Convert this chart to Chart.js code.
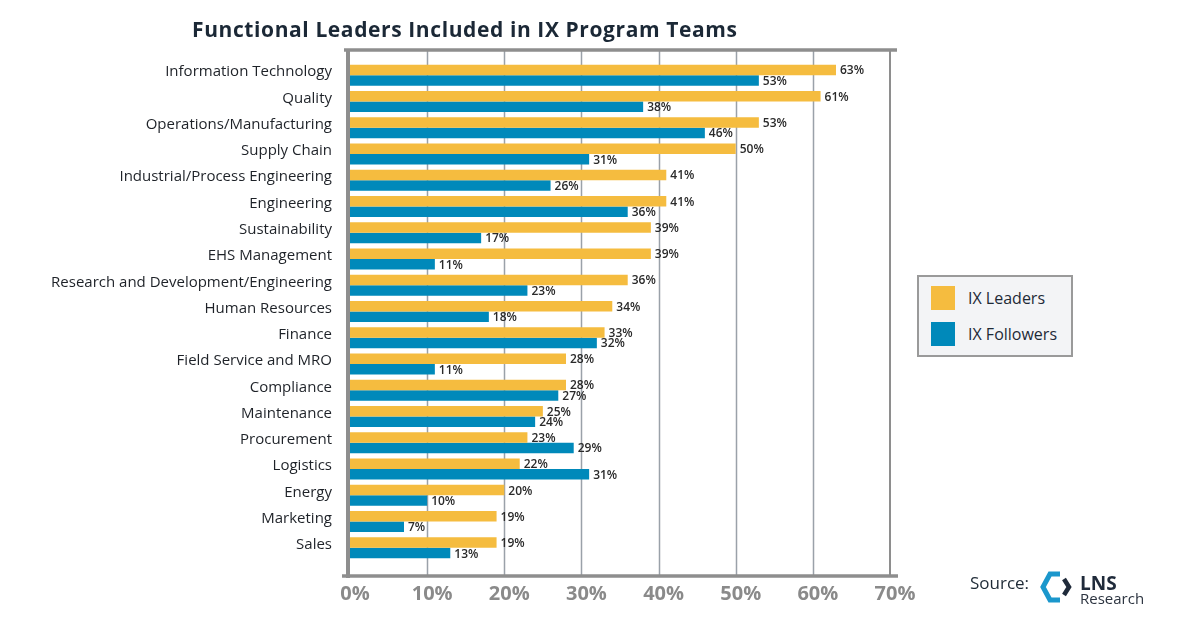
<!DOCTYPE html>
<html>
<head>
<meta charset="utf-8">
<script src="https://cdn.jsdelivr.net/npm/chart.js@4"></script>
<style>
  html, body { margin: 0; padding: 0; background: #fff; }
  #wrap { position: relative; width: 1200px; height: 630px; font-family: 'Open Sans', sans-serif; }
  #chart { position: absolute; left: 0; top: 0; }
  .title { position: absolute; left: 192px; top: 15px; font: bold 21px 'Open Sans', sans-serif; color: #1b2836; letter-spacing: 0.6px; }
  .legend { position: absolute; left: 917px; top: 275px; width: 152px; height: 78px; background: #f3f4f6; border: 2px solid #9a9a9a; }
  .legend .item { position: absolute; left: 12px; display: flex; align-items: center; font-size: 16px; color: #1e2a36; }
  .legend .sw { width: 24px; height: 24px; margin-right: 13px; }
  .source { position: absolute; left: 970px; top: 571px; font-size: 17px; color: #1e2a36; }
  .logo { position: absolute; left: 1036px; top: 566px; }
</style>
</head>
<body>
<div id="wrap">
  <canvas id="chart" width="1200" height="630"></canvas>
  <div class="title">Functional Leaders Included in IX Program Teams</div>
  <div class="legend" id="legend"></div>
  <div class="source">Source:</div>
  <svg class="logo" width="120" height="44" viewBox="0 0 120 44">
    <polyline points="24,8 14,8 7,21 14,34 24,34" fill="none" stroke="#1b97cc" stroke-width="5" stroke-linejoin="miter"/>
    <polyline points="28,13 33,21 28,29" fill="none" stroke="#1f2a3a" stroke-width="4.5"/>
    <text x="44" y="24" font-family="Open Sans" font-weight="bold" font-size="19" fill="#1f2a3a">LNS</text>
    <text x="44" y="38" font-family="Open Sans" font-size="15" fill="#2c3440">Research</text>
  </svg>
</div>
<script>
const categories = [
  'Information Technology', 'Quality', 'Operations/Manufacturing', 'Supply Chain',
  'Industrial/Process Engineering', 'Engineering', 'Sustainability', 'EHS Management',
  'Research and Development/Engineering', 'Human Resources', 'Finance', 'Field Service and MRO',
  'Compliance', 'Maintenance', 'Procurement', 'Logistics', 'Energy', 'Marketing', 'Sales'
];
const leaders   = [63, 61, 53, 50, 41, 41, 39, 39, 36, 34, 33, 28, 28, 25, 23, 22, 20, 19, 19];
const followers = [53, 38, 46, 31, 26, 36, 17, 11, 23, 18, 32, 11, 27, 24, 29, 31, 10, 7, 13];
const seriesNames = ['IX Leaders', 'IX Followers'];
const xTicks = [0, 10, 20, 30, 40, 50, 60, 70];

const YELLOW = '#f5bc3f', BLUE = '#0089ba';
const FRAME = '#8e8e8e', GRID = '#9aa1a9';

// legend (html)
document.getElementById('legend').innerHTML = seriesNames.map((n, i) =>
  `<div class="item" style="top:${9 + i * 36}px"><div class="sw" style="background:${i ? BLUE : YELLOW}"></div>${n}</div>`
).join('');

// frame + gridlines, extended a bit past the chart area like the original
const framePlugin = {
  id: 'frame',
  beforeDatasetsDraw(chart) {
    const { ctx, chartArea: a, scales: { x } } = chart;
    const top = a.top - 12, bot = a.bottom + 15;
    ctx.save();
    ctx.strokeStyle = GRID; ctx.lineWidth = 1.5;
    xTicks.slice(1, -1).forEach(v => {
      const px = Math.round(x.getPixelForValue(v)) + 0.5;
      ctx.beginPath(); ctx.moveTo(px, top); ctx.lineTo(px, bot); ctx.stroke();
    });
    ctx.strokeStyle = FRAME;
    const r = x.getPixelForValue(70);
    ctx.lineWidth = 2;
    ctx.beginPath(); ctx.moveTo(r, top); ctx.lineTo(r, bot); ctx.stroke();
    ctx.lineWidth = 3.5;
    ctx.beginPath(); ctx.moveTo(a.left - 6, top); ctx.lineTo(r + 7, top); ctx.stroke();
    ctx.beginPath(); ctx.moveTo(a.left - 8, bot); ctx.lineTo(r + 8, bot); ctx.stroke();
    ctx.lineWidth = 4;
    ctx.beginPath(); ctx.moveTo(a.left - 2, top); ctx.lineTo(a.left - 2, bot + 2); ctx.stroke();
    ctx.restore();
  }
};

const valueLabels = {
  id: 'valueLabels',
  afterDatasetsDraw(chart) {
    const { ctx } = chart;
    ctx.save();
    ctx.font = '600 12px "Open Sans"';
    ctx.fillStyle = '#2a2a2a';
    ctx.textBaseline = 'middle';
    chart.data.datasets.forEach((ds, di) => {
      chart.getDatasetMeta(di).data.forEach((bar, i) => {
        ctx.fillText(ds.data[i] + '%', bar.x + 4, bar.y + 1);
      });
    });
    ctx.restore();
  }
};

new Chart(document.getElementById('chart'), {
  type: 'bar',
  data: {
    labels: categories,
    datasets: [
      { label: seriesNames[0], data: leaders, backgroundColor: YELLOW },
      { label: seriesNames[1], data: followers, backgroundColor: BLUE }
    ]
  },
  options: {
    indexAxis: 'y',
    responsive: false,
    animation: false,
    layout: { padding: { top: 62, right: 310, left: 0, bottom: 0 } },
    categoryPercentage: 0.8,
    barPercentage: 1.0,
    plugins: { legend: { display: false }, tooltip: { enabled: false } },
    scales: {
      x: {
        min: 0, max: 70,
        afterFit: s => { s.height = 69; },
        afterBuildTicks: s => { s.ticks = xTicks.map(v => ({ value: v })); },
        grid: { display: false, drawTicks: false },
        border: { display: false },
        ticks: { padding: 21, labelOffset: 5, color: '#8a8a8a', font: { family: 'Open Sans', size: 20, weight: 'bold' }, callback: v => v + '%' }
      },
      y: {
        afterFit: s => { s.width = 350; },
        grid: { display: false, drawTicks: false },
        border: { display: false },
        ticks: { padding: 18, labelOffset: -3, color: '#1e2228', font: { family: 'Open Sans', size: 15 } }
      }
    }
  },
  plugins: [framePlugin, valueLabels]
});
</script>
</body>
</html>
